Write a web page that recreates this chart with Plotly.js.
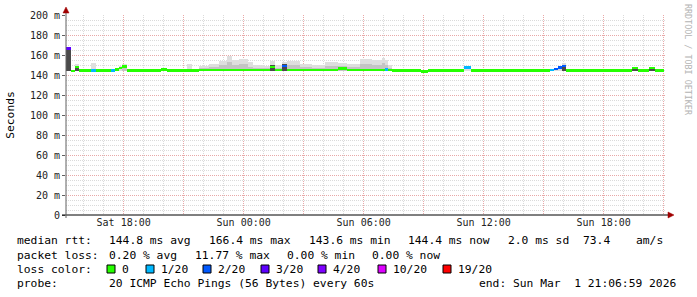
<!DOCTYPE html>
<html>
<head>
<meta charset="utf-8">
<script src="https://cdn.plot.ly/plotly-3.0.1.min.js"></script>
<style>html,body{margin:0;padding:0;background:#fff;}#chart{width:697px;height:297px;}</style>
</head>
<body>
<div id="chart"></div>
<script>
// ---- data ----
const segStart = [
  "2026-02-28 15:07","2026-02-28 15:22","2026-02-28 15:34","2026-02-28 15:46","2026-02-28 16:22",
  "2026-02-28 16:37","2026-02-28 16:49","2026-02-28 17:10","2026-02-28 17:22","2026-02-28 17:34",
  "2026-02-28 17:46","2026-02-28 17:55","2026-02-28 18:10","2026-02-28 19:31","2026-02-28 19:52",
  "2026-02-28 20:10","2026-02-28 21:10","2026-02-28 21:25","2026-02-28 21:46","2026-02-28 22:16",
  "2026-02-28 22:46","2026-02-28 23:10","2026-02-28 23:25","2026-02-28 23:46","2026-03-01 00:13",
  "2026-03-01 00:28","2026-03-01 01:04","2026-03-01 01:19","2026-03-01 01:34","2026-03-01 01:55",
  "2026-03-01 02:10","2026-03-01 02:49","2026-03-01 03:25","2026-03-01 04:04","2026-03-01 04:43",
  "2026-03-01 05:10","2026-03-01 05:49","2026-03-01 06:25","2026-03-01 06:55","2026-03-01 07:04",
  "2026-03-01 07:13","2026-03-01 07:25","2026-03-01 08:52","2026-03-01 09:13","2026-03-01 11:01",
  "2026-03-01 11:22","2026-03-01 11:49","2026-03-01 15:19","2026-03-01 15:31","2026-03-01 15:43",
  "2026-03-01 15:55","2026-03-01 16:07","2026-03-01 17:46","2026-03-01 18:07","2026-03-01 19:25",
  "2026-03-01 19:43","2026-03-01 20:16","2026-03-01 20:34"
];
const segEnd = "2026-03-01 21:00";
const medianMs = [
  166.4,144.3,148.3,144.6,144.6, 144.6,144.6,144.6,144.6,145.5,
  147.0,148.5,144.6,144.6,145.6, 144.6,144.6,144.6,144.8,144.8,
  144.8,144.8,144.8,144.8,144.8, 144.8,144.8,148.0,144.8,149.0,
  144.8,144.8,144.8,144.8,146.5, 144.8,144.8,144.8,144.8,145.5,
  144.8,144.6,143.6,144.6,147.5, 144.6,144.6,145.2,146.3,147.5,
  149.0,144.6,144.6,144.6,147.0, 144.6,147.0,144.6
];
const lossIdx = [
  3,0,0,0,1, 0,0,0,1,0,
  0,0,0,0,0, 0,0,0,0,0,
  0,0,0,0,0, 0,0,0,0,2,
  0,0,0,0,0, 0,0,0,0,1,
  0,0,0,0,1, 0,0,1,2,2,
  2,0,0,0,0, 0,0,0
];
const smokeHi = [
  167,145,151,145,152, 145,146.5,145,145,146,
  149,151,145,146.5,146.5, 145,151,145,149,151,
  154,159.5,155,156,153, 150,149,154,150,153,
  154,151,150,153,152, 151,156,155,157,155,
  150,145,145,145,149, 146.5,145,146,147,149,
  152,145,146.5,145,148, 145,148,145
];
const smokeMid = [
  0,0,149.5,0,0, 0,0,0,0,0,
  0,149.5,0,0,0, 0,0,0,147,148,
  150,153,150,151,148, 147,147,150,147,151,
  150,148,147,149,149, 148,151,150,152,150,
  147,0,0,0,0, 0,0,0,0,0,
  150,0,0,0,148, 0,148,0
];
const smokeDark = [
  167,0,149.5,0,0, 0,0,0,0,0,
  0,0,0,0,0, 0,0,0,0,0,
  0,0,0,0,0, 0,0,150,0,151,
  0,0,0,0,0, 0,0,0,0,0,
  0,0,0,0,0, 0,0,0,0,0,
  150,0,0,0,148, 0,148,0
];
const smokeFloor = 143.8;

const lossLabels = ["0","1/20","2/20","3/20","4/20","10/20","19/20"];
const lossColors = ["#26ff00","#00b8ff","#0059ff","#5e00ff","#7e00ff","#dd00ff","#ff0000"];

const yTickVals = [0,20,40,60,80,100,120,140,160,180,200];
const yTickText = ["0","20 m","40 m","60 m","80 m","100 m","120 m","140 m","160 m","180 m","200 m"];
const xTickVals = ["2026-02-28 18:00","2026-02-28 21:00","2026-03-01 00:00","2026-03-01 03:00","2026-03-01 06:00",
                   "2026-03-01 09:00","2026-03-01 12:00","2026-03-01 15:00","2026-03-01 18:00","2026-03-01 21:00"];
const xTickText = ["Sat 18:00","","Sun 00:00","","Sun 06:00","","Sun 12:00","","Sun 18:00",""];

const rttLine = [["median rtt:",0],["144.8 ms avg",13],["166.4 ms max",27],["143.6 ms min",41],["144.4 ms now",55],["2.0 ms sd",69],["73.4",79.6],["am/s",87]];
const lossLine = [["packet loss:",0],["0.20 % avg",13],["11.77 % max",25],["0.00 % min",38],["0.00 % now",50]];
const probeLine = [["probe:",0],["20 ICMP Echo Pings (56 Bytes) every 60s",13],["end: Sun Mar\u00a0\u00a01 21:06:59 2026",65]];
const lossBoxX = [107,146,203,261,318,378,443];

// ---- build ----
function toMs(s){ return Date.parse(s.replace(' ','T') + ':00Z'); }
const starts = segStart.map(toMs);
const ends = starts.slice(1).concat([toMs(segEnd)]);
const centers = starts.map((s,i)=>(s+ends[i])/2);
const widths = starts.map((s,i)=>ends[i]-s);

function barTrace(vals, color){
  const x=[],y=[],b=[],w=[];
  vals.forEach((v,i)=>{ if(v>0){ x.push(centers[i]); b.push(smokeFloor); y.push(v-smokeFloor); w.push(widths[i]); } });
  return {type:'bar', x:x, y:y, base:b, width:w, marker:{color:color, line:{width:0}}, hoverinfo:'skip', showlegend:false};
}
const traces = [
  barTrace(smokeHi, '#dedede'),
  barTrace(smokeMid, '#c4c4c4'),
  barTrace(smokeDark, '#4a4a4a'),
  {type:'bar', x:centers, base:medianMs.map(v=>v-1.2), y:medianMs.map(()=>2.4), width:widths,
   marker:{color:lossIdx.map(i=>lossColors[i]), line:{width:0}}, hoverinfo:'skip', showlegend:false}
];

const L=66, T=15, PW=600, PH=200;
const px = x => (x-L)/PW;
const py = y => (T+PH-y)/PH;
const mono = 'DejaVu Sans Mono, monospace';
const CW = 7.11;

const annotations = [];
function addText(txt, xpix, ypix, size, color){
  annotations.push({xref:'paper', yref:'paper', x:px(xpix-1), y:py(ypix), xanchor:'left', yanchor:'middle',
    text:txt.replace(/ /g,'\u00a0'), showarrow:false, font:{family:mono, size:size||11.3, color:color||'#000'}});
}
rttLine.forEach(([t,c])=>addText(t, 16+c*CW, 241));
lossLine.forEach(([t,c])=>addText(t, 16+c*CW, 255.5));
addText("loss color:", 16, 269);
lossLabels.forEach((t,i)=>addText(t, lossBoxX[i]+14, 269));
probeLine.forEach(([t,c])=>addText(t, 16+c*CW, 283));
annotations.push({xref:'paper', yref:'paper', x:px(688), y:py(60), xanchor:'center', yanchor:'middle',
  text:'RRDTOOL / TOBI OETIKER', textangle:90, showarrow:false, font:{family:mono, size:8.4, color:'#b4b4b4'}});

const shapes = [];
lossBoxX.forEach((bx,i)=>shapes.push({type:'rect', xref:'paper', yref:'paper', x0:px(bx), x1:px(bx+8), y0:py(273), y1:py(265),
  fillcolor:lossColors[i], line:{color:'#000', width:1}}));
// axes lines and arrows
shapes.push({type:'line', xref:'paper', yref:'paper', x0:px(62), x1:px(670), y0:0, y1:0, line:{color:'#000', width:1}});
shapes.push({type:'line', xref:'paper', yref:'paper', x0:0, x1:0, y0:py(218), y1:py(10), line:{color:'#606060', width:1}});
shapes.push({type:'path', xref:'paper', yref:'paper', fillcolor:'#a00000', line:{color:'#a00000', width:0.5},
  path:`M ${px(668)} ${py(212)} L ${px(668)} ${py(218)} L ${px(674)} ${py(215)} Z`});
shapes.push({type:'path', xref:'paper', yref:'paper', fillcolor:'#a00000', line:{color:'#a00000', width:0.5},
  path:`M ${px(63)} ${py(13)} L ${px(69)} ${py(13)} L ${px(66)} ${py(7)} Z`});

const layout = {
  width:697, height:297, margin:{l:L, r:697-L-PW, t:T, b:297-T-PH, pad:0},
  paper_bgcolor:'#fff', plot_bgcolor:'#fff', barmode:'overlay', bargap:0, showlegend:false,
  font:{family:mono, color:'#222'},
  xaxis:{type:'date', range:['2026-02-28 15:07:00','2026-03-01 21:07:00'], tickmode:'array', tickvals:xTickVals, ticktext:xTickText,
    showgrid:true, gridcolor:'#e8a8a8', gridwidth:1, griddash:'1px,1px', zeroline:false, showline:false, ticks:'',
    tickfont:{family:mono, size:10, color:'#222'},
    minor:{dtick:3600000, tick0:'2026-02-28 15:00', showgrid:true, gridcolor:'#dadada', gridwidth:1, griddash:'1px,1px', ticks:''}},
  yaxis:{range:[0,200], tickmode:'array', tickvals:yTickVals, ticktext:yTickText,
    showgrid:true, gridcolor:'#e8a8a8', gridwidth:1, griddash:'1px,1px', zeroline:false, showline:false,
    ticks:'outside', ticklen:3, tickcolor:'#606060', tickfont:{family:mono, size:10, color:'#222'},
    minor:{dtick:5, showgrid:true, gridcolor:'#dadada', gridwidth:1, griddash:'1px,1px', ticks:''},
    title:{text:'Seconds', font:{family:mono, size:11.3, color:'#000'}, standoff:12}},
  annotations:annotations, shapes:shapes
};
Plotly.newPlot('chart', traces, layout, {staticPlot:true, displayModeBar:false});
</script>
</body>
</html>
